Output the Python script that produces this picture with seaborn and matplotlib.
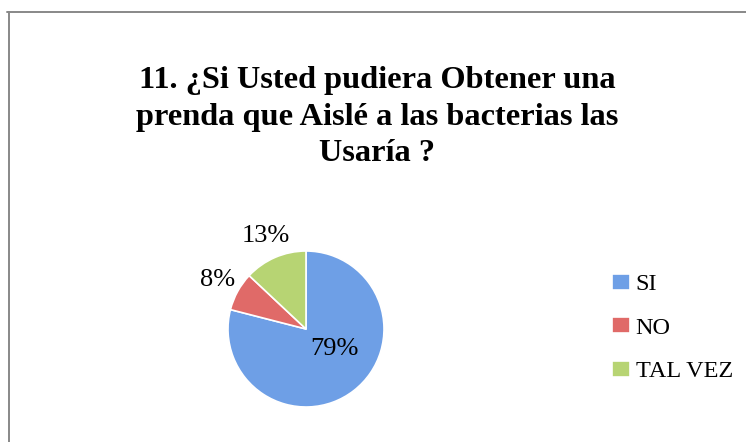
import numpy as np
import matplotlib
matplotlib.use("Agg")
import matplotlib.pyplot as plt
from matplotlib.lines import Line2D
import seaborn as sns

# data
categories = ["SI", "NO", "TAL VEZ"]
values = [79, 8, 13]
colors = ["#6E9FE6", "#E06A68", "#B7D473"]
title = "11. ¿Si Usted pudiera Obtener una\nprenda que Aislé a las bacterias las\nUsaría ?"

sns.set_theme(style="white")
plt.rcParams["font.family"] = ["Liberation Serif", "DejaVu Serif"]
plt.rcParams["text.color"] = "black"

fig = plt.figure(figsize=(7.46, 4.42), dpi=100)

# frame (top and left edges only visible in the crop)
fig.add_artist(Line2D([7 / 746, 1.0], [1 - 12 / 442] * 2, color="#888888", lw=1.4))
fig.add_artist(Line2D([9 / 746] * 2, [0.0, 1 - 12 / 442], color="#888888", lw=1.4))

fig.text(377 / 746, 1 - 117 / 442, title, ha="center", va="center",
         fontsize=23.3, fontweight="bold", linespacing=1.36)

# pie axes: centre (306, 329) px, radius 78 px
cx, cy, r = 306, 329, 78
ax = fig.add_axes([(cx - r) / 746, (442 - cy - r) / 442, 2 * r / 746, 2 * r / 442])

wedges, texts, autotexts = ax.pie(
    values, colors=colors, startangle=90, counterclock=False,
    autopct="%1.0f%%", pctdistance=1.3,
    wedgeprops=dict(edgecolor="white", linewidth=1.2),
    textprops=dict(fontsize=19, color="black"),
)
ax.set_xlim(-1, 1)
ax.set_ylim(-1, 1)

# the big slice label sits inside the wedge
w = wedges[0]
mid = np.deg2rad((w.theta1 + w.theta2) / 2 + 15)
autotexts[0].set_position((0.45 * np.cos(mid), 0.43 * np.sin(mid)))

fig.legend(wedges, categories, loc="center left",
           bbox_to_anchor=(612 / 746, 1 - 328 / 442), bbox_transform=fig.transFigure,
           frameon=False, fontsize=17.5, handlelength=0.72, handleheight=0.65,
           handletextpad=0.25, labelspacing=0.9, borderpad=0, borderaxespad=0)

fig.savefig("out.png", dpi=100)
